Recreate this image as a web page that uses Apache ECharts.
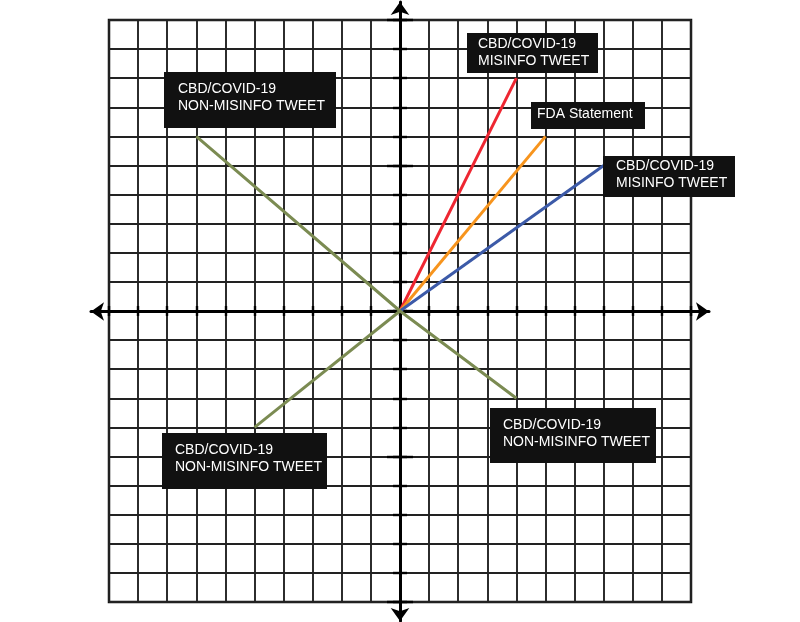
<!DOCTYPE html>
<html>
<head>
<meta charset="utf-8">
<script src="https://cdn.jsdelivr.net/npm/echarts@6/dist/echarts.min.js"></script>
<style>
html,body{margin:0;padding:0;background:#fff;}
#chart{width:800px;height:622px;}
</style>
</head>
<body>
<div id="chart"></div>
<script>
// ---- data ----
var axisMin = -10;
var axisMax = 10;
var redLine = [[0, 0], [4, 8]];
var orangeLine = [[0, 0], [5, 6]];
var blueLine = [[0, 0], [7, 5]];
var oliveLineA = [[-7, 6], [0, 0], [4, -3]];
var oliveLineB = [[0, 0], [-5, -4]];

var labelTexts = [
  'CBD/COVID-19\nMISINFO TWEET',
  'FDA Statement',
  'CBD/COVID-19\nMISINFO TWEET',
  'CBD/COVID-19\nNON-MISINFO TWEET',
  'CBD/COVID-19\nNON-MISINFO TWEET',
  'CBD/COVID-19\nNON-MISINFO TWEET'
];
var labelAnchors = [[4, 8], [5, 6], [7, 5], [-7, 6], [4, -3], [-5, -4]];

// ---- layout (pixel offsets of label boxes from their anchor) ----
var labelBoxes = [
  {dx: -49.4, dy: -45.2, w: 131, h: 40, pad: 11, cy: 19.3},
  {dx: -14.5, dy: -34.4, w: 114, h: 27, pad: 6,  cy: 11.8},
  {dx: -0.7,  dy: -9.5,  w: 132, h: 41, pad: 13, cy: 18.9},
  {dx: -32.3, dy: -64.4, w: 172, h: 56, pad: 14, cy: 25.8},
  {dx: -26.4, dy: 9.7,   w: 166, h: 55, pad: 13, cy: 25.3},
  {dx: -92.5, dy: 5.6,   w: 165, h: 56, pad: 13, cy: 25.9}
];

var FONT = '"Liberation Sans", Arial, Helvetica, sans-serif';
var chart = echarts.init(document.getElementById('chart'), null, {renderer: 'canvas'});

function gridAxis(gi) {
  return {
    type: 'value', gridIndex: gi, min: axisMin, max: axisMax, interval: 1,
    axisLine: {show: false, onZero: false},
    axisTick: {show: false}, axisLabel: {show: false},
    splitLine: {show: true, lineStyle: {color: '#222', width: 1.9}}
  };
}
function arrowAxis(pos) {
  return {
    type: 'value', gridIndex: 1, min: -1, max: 1, position: pos,
    axisLine: {show: true, onZero: true, onZeroAxisIndex: 1,
      symbol: ['arrow', 'arrow'], symbolSize: [14, 13],
      lineStyle: {color: '#000', width: 3}},
    axisTick: {show: false}, axisLabel: {show: false}, splitLine: {show: false}
  };
}
function tickAxis(pos, interval, len, inside) {
  return {
    type: 'value', gridIndex: 0, min: axisMin, max: axisMax, interval: interval, position: pos,
    axisLine: {show: true, onZero: true, onZeroAxisIndex: 0, lineStyle: {color: '#000', width: 3}},
    axisTick: {show: true, length: len, inside: inside, lineStyle: {color: '#000', width: 2.4}},
    axisLabel: {show: false}, splitLine: {show: false}
  };
}

function lineSeries(data, color) {
  return {
    type: 'line', xAxisIndex: 0, yAxisIndex: 0, data: data,
    symbol: 'none', silent: true, z: 5,
    lineStyle: {color: color, width: 3}
  };
}

chart.setOption({
  animation: false,
  backgroundColor: '#fff',
  grid: [
    {left: 109, top: 20, width: 582, height: 582, show: true, containLabel: false,
     outerBoundsMode: 'none',
     borderColor: '#111', borderWidth: 2.5, backgroundColor: 'transparent'},
    {left: 91, top: 2, width: 618, height: 619, show: false, containLabel: false,
     outerBoundsMode: 'none'}
  ],
  xAxis: [
    gridAxis(0),
    arrowAxis('bottom'),
    tickAxis('bottom', 1, 5, false),
    tickAxis('bottom', 1, 5, true)
  ],
  yAxis: [
    gridAxis(0),
    arrowAxis('left'),
    tickAxis('left', 1, 7, false),
    tickAxis('left', 1, 7, true),
    tickAxis('left', 5, 13, false),
    tickAxis('left', 5, 13, true)
  ],
  series: [
    lineSeries(redLine, '#ee2631'),
    lineSeries(orangeLine, '#f7941d'),
    lineSeries(blueLine, '#3c5aa8'),
    lineSeries(oliveLineA, '#7b8b52'),
    lineSeries(oliveLineB, '#7b8b52')
  ]
});

var graphics = [];
labelAnchors.forEach(function (pt, i) {
  var p = chart.convertToPixel({seriesIndex: 0}, pt);
  var b = labelBoxes[i];
  var x0 = p[0] + b.dx, y0 = p[1] + b.dy;
  graphics.push({
    type: 'rect', z: 100,
    shape: {x: x0, y: y0, width: b.w, height: b.h},
    style: {fill: '#111111'}
  });
  graphics.push({
    type: 'text', z: 101,
    x: x0 + b.pad, y: y0 + b.cy,
    style: {
      text: labelTexts[i], fill: '#ffffff',
      font: '14px ' + FONT, lineHeight: 17,
      align: 'left', verticalAlign: 'middle'
    }
  });
});
chart.setOption({graphic: graphics});
</script>
</body>
</html>
